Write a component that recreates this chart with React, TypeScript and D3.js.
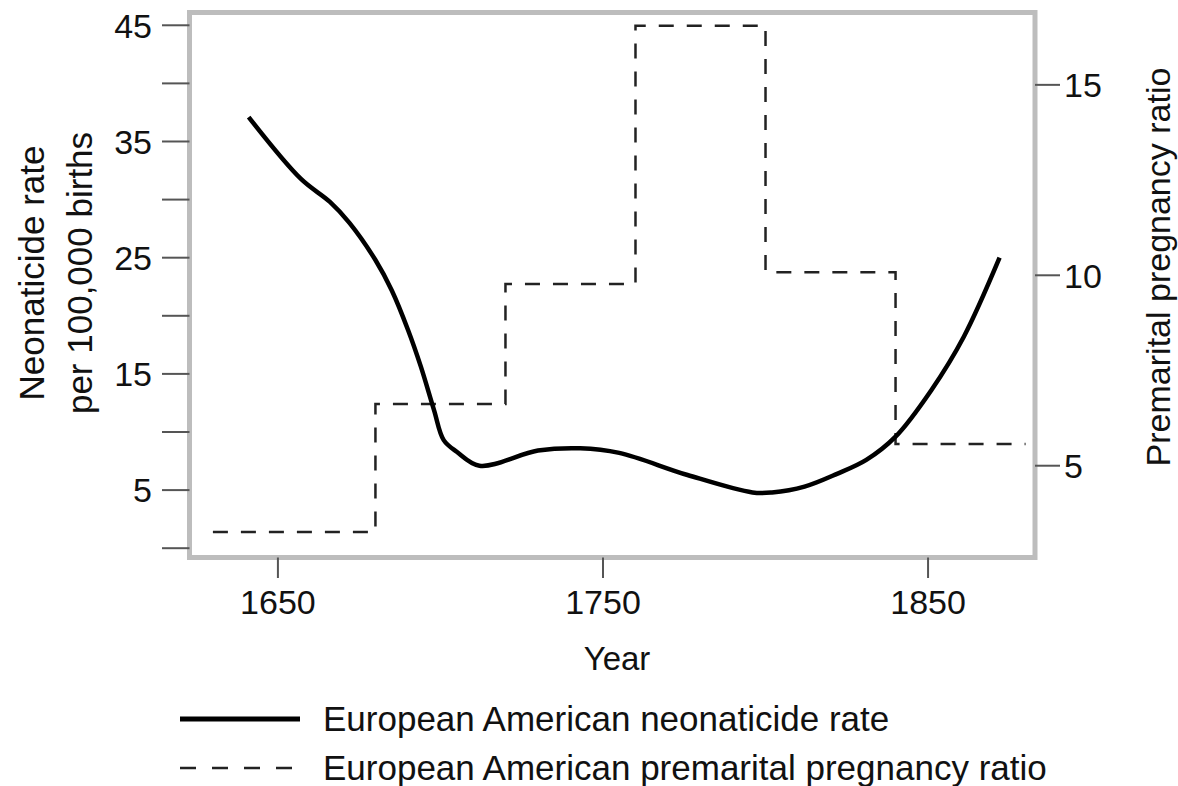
import React from 'react'
import * as d3 from 'd3'

// neonaticide rate per 100,000 births (left axis)
const rateYears = [1641, 1657, 1666, 1672, 1680, 1685, 1690, 1694, 1698, 1701, 1705, 1712, 1730, 1743, 1755, 1776, 1796, 1802, 1812, 1822, 1831, 1840, 1851, 1861, 1872]
const rateValues = [37.1, 31.8, 29.8, 28.0, 24.8, 22.2, 18.8, 15.6, 11.9, 9.3, 8.3, 7.1, 8.4, 8.6, 8.2, 6.3, 4.8, 4.8, 5.3, 6.4, 7.6, 9.6, 13.6, 18.2, 25.0]

// premarital pregnancy ratio (right axis), step function
const stepStarts = [1630, 1680, 1720, 1760, 1800, 1840]
const stepEnd = 1880
const ratioValues = [3.26, 6.62, 9.77, 16.55, 10.08, 5.57]

const xTicks = [1650, 1750, 1850]
const leftLabelTicks = [5, 15, 25, 35, 45]
const leftMinorTicks = [0, 10, 20, 30, 40]
const rightTicks = [5, 10, 15]

const legendLabels = ['European American neonaticide rate', 'European American premarital pregnancy ratio']

const W = 1178
const H = 786
const plot = { left: 189.5, right: 1035, top: 12.5, bottom: 557.5 }
const font = '"Liberation Sans", Arial, Helvetica, sans-serif'
const frameColor = '#bdbdbd'
const tickColor = '#555'
const textColor = '#111'
const dash = '15,13'

export default function App() {
  const x = d3.scaleLinear().domain([1622.8, 1882.9]).range([plot.left, plot.right])
  const yL = d3.scaleLinear().domain([-0.8, 46.1]).range([plot.bottom, plot.top])
  const yR = d3.scaleLinear().domain([2.59, 16.9]).range([plot.bottom, plot.top])

  const ratePoints: [number, number][] = rateYears.map((yr, i) => [yr, rateValues[i]])
  const rateLine = d3
    .line<[number, number]>()
    .x(d => x(d[0]))
    .y(d => yL(d[1]))
    .curve(d3.curveCatmullRom.alpha(0.5))

  const stepPoints: [number, number][] = stepStarts.map((yr, i) => [yr, ratioValues[i]])
  stepPoints.push([stepEnd, ratioValues[ratioValues.length - 1]])
  const stepLine = d3
    .line<[number, number]>()
    .x(d => x(d[0]))
    .y(d => yR(d[1]))
    .curve(d3.curveStepAfter)

  const midY = (plot.top + plot.bottom) / 2

  return (
    <svg
      width={W}
      height={H}
      style={{ position: 'absolute', left: 0, top: 0, background: '#fff' }}
      fontFamily={font}
    >
      <rect x={0} y={0} width={W} height={H} fill="#fff" />

      {/* data */}
      <path d={stepLine(stepPoints) || ''} fill="none" stroke="#222" strokeWidth={2.5} strokeDasharray={dash} />
      <path d={rateLine(ratePoints) || ''} fill="none" stroke="#000" strokeWidth={4.5} strokeLinejoin="round" />

      {/* frame */}
      <rect
        x={plot.left}
        y={plot.top}
        width={plot.right - plot.left}
        height={plot.bottom - plot.top}
        fill="none"
        stroke={frameColor}
        strokeWidth={5}
      />

      {/* left axis */}
      {leftMinorTicks.concat(leftLabelTicks).map(t => (
        <line key={'lt' + t} x1={162} x2={plot.left} y1={yL(t)} y2={yL(t)} stroke={tickColor} strokeWidth={2} />
      ))}
      {leftLabelTicks.map(t => (
        <text key={'ll' + t} x={152} y={yL(t)} dy="0.36em" textAnchor="end" fontSize={34} fill={textColor}>
          {t}
        </text>
      ))}

      {/* right axis */}
      {rightTicks.map(t => (
        <g key={'rt' + t}>
          <line x1={plot.right} x2={1060} y1={yR(t)} y2={yR(t)} stroke={tickColor} strokeWidth={2} />
          <text x={1064} y={yR(t)} dy="0.36em" textAnchor="start" fontSize={34} fill={textColor}>
            {t}
          </text>
        </g>
      ))}

      {/* bottom axis */}
      {xTicks.map(t => (
        <g key={'xt' + t}>
          <line x1={x(t)} x2={x(t)} y1={plot.bottom} y2={578} stroke={tickColor} strokeWidth={2} />
          <text x={x(t)} y={614} textAnchor="middle" fontSize={34} fill={textColor}>
            {t}
          </text>
        </g>
      ))}

      {/* axis titles */}
      <text x={617} y={670} textAnchor="middle" fontSize={33} fill={textColor}>
        Year
      </text>
      <g transform={`translate(44,${midY - 12}) rotate(-90)`}>
        <text textAnchor="middle" fontSize={35} fill={textColor}>
          Neonaticide rate
        </text>
      </g>
      <g transform={`translate(92,${midY - 12}) rotate(-90)`}>
        <text textAnchor="middle" fontSize={35} fill={textColor}>
          per 100,000 births
        </text>
      </g>
      <g transform={`translate(1170,${midY - 18}) rotate(-90)`}>
        <text textAnchor="middle" fontSize={34} fill={textColor}>
          Premarital pregnancy ratio
        </text>
      </g>

      {/* legend */}
      <line x1={180} x2={300} y1={719} y2={719} stroke="#000" strokeWidth={5} />
      <line x1={180} x2={292} y1={768} y2={768} stroke="#222" strokeWidth={2.5} strokeDasharray="16,16" />
      {legendLabels.map((lbl, i) => (
        <text key={lbl} x={323} y={731 + i * 49} fontSize={35} fill={textColor}>
          {lbl}
        </text>
      ))}
    </svg>
  )
}
